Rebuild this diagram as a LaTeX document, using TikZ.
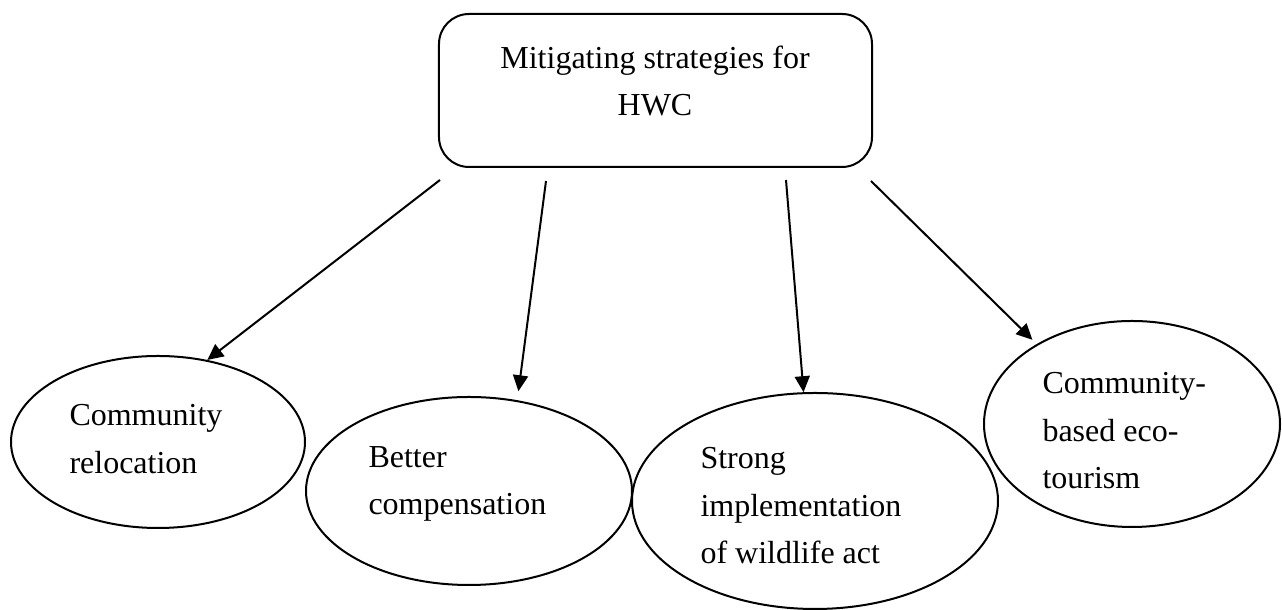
\documentclass[tikz,border=0pt]{standalone}
\usepackage{fontspec}
\setmainfont{Liberation Serif}
\usetikzlibrary{shapes.geometric,arrows.meta}

\begin{document}
\begin{tikzpicture}[x=0.4pt, y=-0.4pt,
    bubble/.style={draw, ellipse, line width=0.8pt, inner sep=0pt},
    bubbletext/.style={anchor=north west, inner sep=0pt, align=left, font=\fontsize{12.8pt}{19pt}\selectfont},
    arr/.style={-{Triangle[length=6.4pt, width=6pt]}, line width=0.8pt}]
  \useasboundingbox (0,0) rectangle (1282,610);
  % top box
  \node[draw, rounded corners=12pt, line width=0.8pt, minimum width=173.2pt, minimum height=61.2pt] (hwc) at (655.5,90.5) {};
  \node[anchor=north, inner sep=0pt, align=center, font=\fontsize{12.8pt}{19pt}\selectfont] (hwc-text) at (655,45) {Mitigating strategies for\\HWC};
  % strategies
  \node[bubble, minimum width=117.6pt, minimum height=68.8pt] (reloc) at (158,442) {};
  \node[bubble, minimum width=130.4pt, minimum height=75.2pt] (comp) at (469,491) {};
  \node[bubble, minimum width=146.4pt, minimum height=86.4pt] (law) at (815,501) {};
  \node[bubble, minimum width=118.4pt, minimum height=82.4pt] (eco) at (1132,424) {};
  \node[bubbletext] (reloc-text) at (69,404) {Community\\relocation};
  \node[bubbletext] (comp-text) at (368,446) {Better\\compensation};
  \node[bubbletext] (law-text) at (700,447) {Strong\\implementation\\of wildlife act};
  \node[bubbletext] (eco-text) at (1042,372) {Community-\\based eco-\\tourism};
  % arrows
  \coordinate (from1) at (440,180);
  \coordinate (from2) at (546,181);
  \coordinate (from3) at (786,180);
  \coordinate (from4) at (871,181);
  \draw[arr] (from1) -- (reloc.59);
  \draw[arr, shorten >=3.6pt] (from2) -- (comp.62);
  \draw[arr] (from3) -- (law.96);
  \draw[arr, shorten >=2.4pt] (from4) -- (eco.140);
\end{tikzpicture}
\end{document}
